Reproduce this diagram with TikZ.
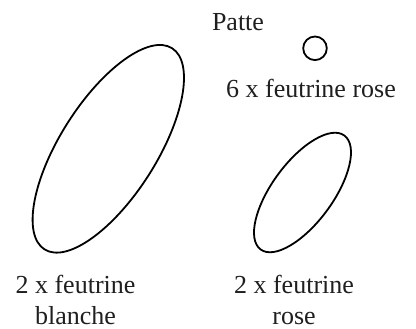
\documentclass[tikz,border=0pt]{standalone}
\usepackage{fontspec}
\setmainfont{Liberation Serif}
\begin{document}
\begin{tikzpicture}[x=1pt,y=1pt,
  shape line/.style={line width=1.8pt, draw=black},
  lbl/.style={anchor=base, inner sep=0pt, text=black!88, font=\fontsize{26}{30}\selectfont}]
\useasboundingbox (0,0) rectangle (416,-329);
% shapes
\draw[shape line, rotate around={57.6:(108.3,-148.8)}] (108.3,-148.8) ellipse [x radius=119.1pt, y radius=48.2pt];
\draw[shape line, rotate around={53.7:(302.5,-192.5)}] (302.5,-192.5) ellipse [x radius=70.7pt, y radius=30.4pt];
\draw[shape line] (315,-48.3) circle [radius=11.8pt];
% labels
\node[lbl] (patte) at (238,-30.7) {Patte};
\node[lbl] (rose6) at (311,-97.7) {6 x feutrine rose};
\node[lbl] (bl1) at (75.5,-294) {2 x feutrine};
\node[lbl] (bl2) at (75.5,-324.5) {blanche};
\node[lbl] (ro1) at (294,-294) {2 x feutrine};
\node[lbl] (ro2) at (294,-324.5) {rose};
\end{tikzpicture}
\end{document}
